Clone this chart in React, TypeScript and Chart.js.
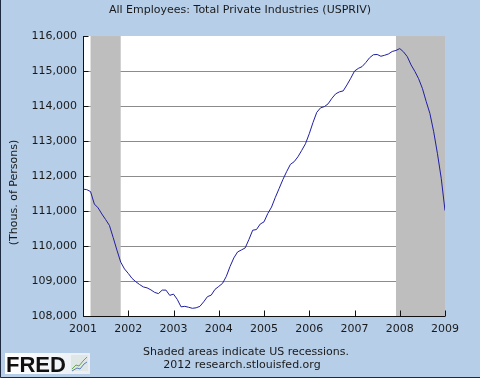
import React, { useEffect, useRef } from "react";
import { Chart, registerables } from "chart.js";

Chart.register(...registerables);

const titleText = "All Employees: Total Private Industries (USPRIV)";
const yAxisTitle = "(Thous. of Persons)";
const footerLines = ["Shaded areas indicate US recessions.", "2012 research.stlouisfed.org"];

const startYear = 2001;
const endYear = 2009;
const yMin = 108000;
const yMax = 116000;
const yStep = 1000;

// Monthly values, Jan 2001 .. Jan 2009 (thousands of persons)
const values = [
  111625, 111610, 111555, 111200, 111090, 110915, 110755, 110590, 110243, 109880, 109540, 109345,
  109217, 109075, 108980, 108900, 108830, 108804, 108747, 108675, 108640, 108740, 108740, 108590,
  108625, 108475, 108262, 108276, 108250, 108220, 108234, 108276, 108405, 108553, 108596, 108760,
  108845, 108932, 109130, 109416, 109660, 109830, 109887, 109944, 110185, 110451, 110470, 110627,
  110690, 110927, 111112, 111388, 111640, 111896, 112124, 112332, 112409, 112550, 112731, 112922,
  113207, 113530, 113820, 113948, 113982, 114062, 114219, 114347, 114404, 114432, 114603, 114792,
  114997, 115074, 115125, 115242, 115379, 115464, 115473, 115421, 115450, 115487, 115558, 115587,
  115641, 115547, 115410, 115174, 114991, 114780, 114504, 114133, 113785, 113264, 112637, 111936,
  111012,
];

// Recession periods as [start, end] in decimal years
const recessions: [number, number][] = [
  [2001 + 2 / 12, 2001 + 10 / 12],
  [2007 + 11 / 12, 2009],
];

const BG = "#b6cee8";
const FONT = "DejaVu Sans";

const decorPlugin = {
  id: "fredDecor",
  beforeDraw(chart: any) {
    const { ctx, chartArea } = chart;
    ctx.save();
    ctx.fillStyle = BG;
    ctx.fillRect(0, 0, chart.width, chart.height);
    ctx.fillStyle = "#ffffff";
    ctx.fillRect(chartArea.left, chartArea.top, chartArea.right - chartArea.left, chartArea.bottom - chartArea.top);
    ctx.restore();
  },
  beforeDatasetsDraw(chart: any) {
    const { ctx, chartArea, scales } = chart;
    const xs = scales.x;
    const ys = scales.y;
    ctx.save();
    ctx.fillStyle = "#bebebe";
    for (const [s, e] of recessions) {
      const x0 = xs.getPixelForValue(s);
      const x1 = xs.getPixelForValue(e);
      ctx.fillRect(x0, chartArea.top, x1 - x0, chartArea.bottom - chartArea.top);
    }
    // axes
    ctx.strokeStyle = "#111111";
    ctx.lineWidth = 1;
    ctx.beginPath();
    const L = Math.round(chartArea.left) + 0.5;
    const B = Math.round(chartArea.bottom) + 0.5;
    ctx.moveTo(L, Math.round(chartArea.top));
    ctx.lineTo(L, B);
    ctx.lineTo(Math.round(chartArea.right), B);
    // y ticks (inside)
    for (let v = yMin; v <= yMax; v += yStep) {
      const y = Math.round(ys.getPixelForValue(v)) + 0.5;
      ctx.moveTo(L, y);
      ctx.lineTo(L + 5, y);
    }
    // x ticks (inside)
    for (let yr = startYear; yr <= endYear; yr++) {
      const x = Math.round(xs.getPixelForValue(yr)) + 0.5;
      ctx.moveTo(x, B);
      ctx.lineTo(x, B - 6);
    }
    ctx.stroke();
    ctx.restore();
  },
  afterDraw(chart: any) {
    const { ctx } = chart;
    ctx.save();
    ctx.fillStyle = "#1a1a1a";
    ctx.textAlign = "center";
    ctx.textBaseline = "middle";
    ctx.font = `11px "${FONT}"`;
    ctx.fillText(titleText, 240, 10);
    ctx.fillText(footerLines[0], 246, 352);
    ctx.fillText(footerLines[1], 242, 365);
    // y axis title
    ctx.save();
    ctx.translate(14.5, 192.5);
    ctx.rotate(-Math.PI / 2);
    ctx.fillText(yAxisTitle, 0, 0);
    ctx.restore();

    // FRED logo
    const g = ctx.createLinearGradient(5, 0, 90, 0);
    g.addColorStop(0, "#ffffff");
    g.addColorStop(1, "#e8eef4");
    ctx.fillStyle = g;
    ctx.fillRect(5, 353, 85, 21);
    ctx.fillStyle = "#111111";
    ctx.textAlign = "left";
    ctx.textBaseline = "alphabetic";
    ctx.font = `bold 22px "Liberation Sans"`;
    ctx.fillText("FRED", 6, 372);
    // small chart icon
    ctx.fillStyle = "#dfe6e6";
    ctx.fillRect(71, 355, 17, 16);
    ctx.lineWidth = 1;
    ctx.strokeStyle = "#6aa84f";
    ctx.beginPath();
    ctx.moveTo(72, 369);
    ctx.lineTo(76, 365);
    ctx.lineTo(79, 366);
    ctx.lineTo(83, 361);
    ctx.lineTo(87, 357);
    ctx.stroke();
    ctx.strokeStyle = "#5b7fb5";
    ctx.beginPath();
    ctx.moveTo(72, 371);
    ctx.lineTo(77, 368);
    ctx.lineTo(80, 369);
    ctx.lineTo(84, 364);
    ctx.lineTo(87, 362);
    ctx.stroke();

    // outer border (left & bottom dark)
    ctx.strokeStyle = "#1d2b40";
    ctx.beginPath();
    ctx.moveTo(0.5, 0);
    ctx.lineTo(0.5, chart.height - 0.5);
    ctx.lineTo(chart.width, chart.height - 0.5);
    ctx.stroke();
    ctx.restore();
  },
};

function FredChart() {
  const canvasRef = useRef<HTMLCanvasElement | null>(null);

  useEffect(() => {
    const canvas = canvasRef.current;
    if (!canvas) return;
    const points = values.map((v, i) => ({ x: startYear + i / 12, y: v }));
    const chart = new Chart(canvas, {
      type: "line",
      data: {
        datasets: [
          {
            data: points,
            borderColor: "#1f1fa3",
            borderWidth: 1,
            pointRadius: 0,
            tension: 0,
            fill: false,
          },
        ],
      },
      options: {
        animation: false,
        responsive: false,
        devicePixelRatio: 1,
        layout: { padding: { left: 0, top: 36, right: 35, bottom: 0 } },
        plugins: {
          legend: { display: false },
          title: { display: false },
          tooltip: { enabled: false },
        },
        scales: {
          x: {
            type: "linear",
            min: startYear,
            max: endYear,
            afterFit: (s: any) => {
              s.height = 62;
            },
            grid: { display: false, drawTicks: false },
            border: { display: false },
            ticks: {
              stepSize: 1,
              autoSkip: false,
              maxRotation: 0,
              padding: 7,
              color: "#1a1a1a",
              font: { family: FONT, size: 11 },
              callback: (v: any) => String(v),
            },
          },
          y: {
            min: yMin,
            max: yMax,
            afterFit: (s: any) => {
              s.width = 83;
            },
            grid: {
              drawTicks: false,
              lineWidth: 1,
              color: (c: any) =>
                c.tick && (c.tick.value === yMin || c.tick.value === yMax) ? "rgba(0,0,0,0)" : "#8c8c8c",
            },
            border: { display: false },
            ticks: {
              stepSize: yStep,
              padding: 6,
              color: "#1a1a1a",
              font: { family: FONT, size: 11 },
              callback: (v: any) => Number(v).toLocaleString("en-US"),
            },
          },
        },
      },
      plugins: [decorPlugin],
    });
    return () => chart.destroy();
  }, []);

  return <canvas ref={canvasRef} width={480} height={378} style={{ display: "block", width: 480, height: 378 }} />;
}

export default function App() {
  return (
    <div style={{ position: "fixed", left: 0, top: 0, width: 480, height: 378 }}>
      <FredChart />
    </div>
  );
}
